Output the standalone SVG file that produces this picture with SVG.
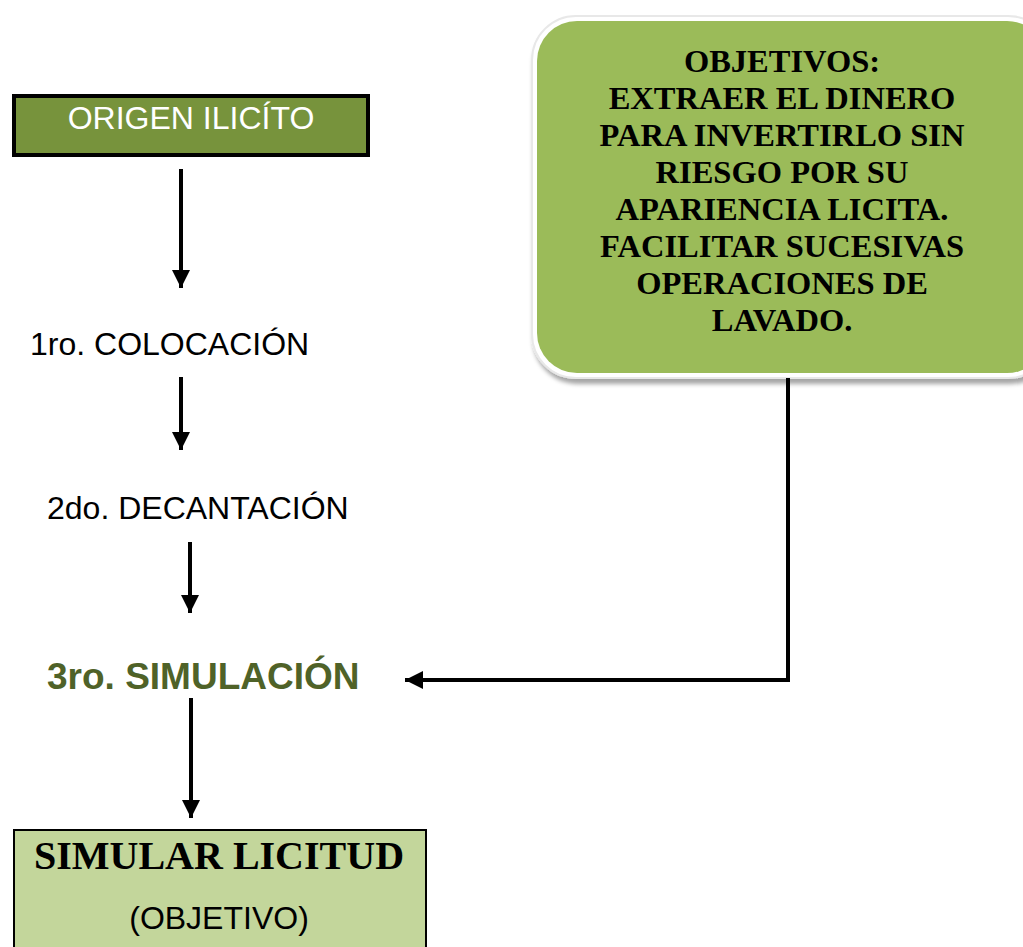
<svg xmlns="http://www.w3.org/2000/svg" width="1023" height="947" viewBox="0 0 1023 947">
<style>
.lbl{font-family:"Liberation Sans",Arial,sans-serif;font-size:32px;fill:#000}
.obj{font-family:"Liberation Serif","Times New Roman",serif;font-size:32.5px;font-weight:bold;fill:#000;text-anchor:middle}
.con{stroke:#000;stroke-width:4;fill:none}
</style>
<defs>
<marker id="ah" viewBox="0 0 10 10" refX="10" refY="5" markerWidth="4.5" markerHeight="5" markerUnits="strokeWidth" orient="auto">
<path d="M0,0 L10,5 L0,10 Z" fill="#000"/>
</marker>
<filter id="sh" x="-10%" y="-10%" width="120%" height="125%">
<feDropShadow dx="2" dy="5" stdDeviation="2" flood-color="#000" flood-opacity="0.35"/>
</filter>
</defs>
<rect width="1023" height="947" fill="#fff"/>
<g id="origen">
<rect x="14" y="96" width="354" height="59" fill="#77933C" stroke="#000" stroke-width="4"/>
<text x="191" y="129" class="lbl" style="fill:#fff" text-anchor="middle">ORIGEN ILICÍTO</text>
</g>
<g id="colocacion"><text x="30" y="355" class="lbl">1ro. COLOCACIÓN</text></g>
<g id="decantacion"><text x="47" y="519" class="lbl">2do. DECANTACIÓN</text></g>
<g id="simulacion"><text x="47" y="689" class="lbl" style="font-size:37px;font-weight:bold;fill:#4F6228">3ro. SIMULACIÓN</text></g>
<g id="objetivos">
<rect x="532" y="16" width="520" height="362" rx="44" fill="#fff" stroke="#e8e8e8" stroke-width="2" filter="url(#sh)"/>
<rect x="537" y="21" width="510" height="352" rx="40" fill="#9BBB59"/>
<text class="obj" x="782" y="72">OBJETIVOS:</text>
<text class="obj" x="782" y="109">EXTRAER EL DINERO</text>
<text class="obj" x="782" y="146">PARA INVERTIRLO SIN</text>
<text class="obj" x="782" y="183">RIESGO POR SU</text>
<text class="obj" x="782" y="220">APARIENCIA LICITA.</text>
<text class="obj" x="782" y="257">FACILITAR SUCESIVAS</text>
<text class="obj" x="782" y="294">OPERACIONES DE</text>
<text class="obj" x="782" y="331">LAVADO.</text>
</g>
<g id="simular">
<rect x="14" y="830" width="412" height="130" fill="#C3D69B" stroke="#000" stroke-width="2"/>
<text x="219" y="869" text-anchor="middle" style="font-family:'Liberation Serif','Times New Roman',serif;font-size:40px;font-weight:bold">SIMULAR LICITUD</text>
<text x="219" y="929" class="lbl" text-anchor="middle">(OBJETIVO)</text>
</g>
<g id="connectors">
<line class="con" x1="181" y1="169" x2="181" y2="288" marker-end="url(#ah)"/>
<line class="con" x1="181" y1="377" x2="181" y2="450" marker-end="url(#ah)"/>
<line class="con" x1="190" y1="542" x2="190" y2="613" marker-end="url(#ah)"/>
<line class="con" x1="191" y1="698" x2="191" y2="818" marker-end="url(#ah)"/>
<polyline class="con" points="788,378 788,680 405,680" stroke-width="5" marker-end="url(#ah)"/>
</g>
</svg>
